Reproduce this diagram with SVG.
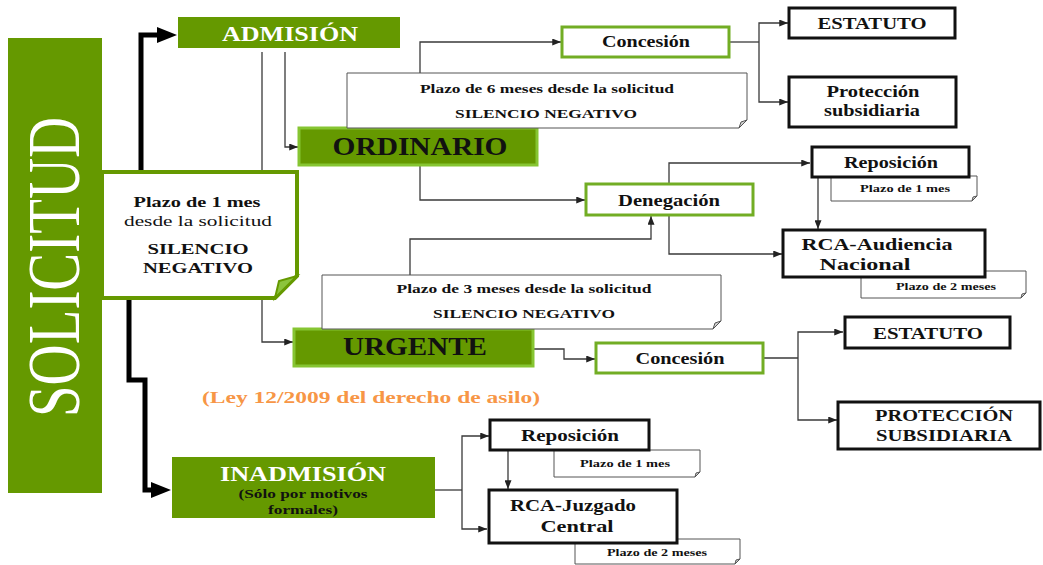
<svg xmlns="http://www.w3.org/2000/svg" width="1043" height="565" viewBox="0 0 1043 565">
<style>
text{font-family:'Liberation Serif','DejaVu Serif',serif;font-weight:bold;text-anchor:middle;fill:#111}
.wt{fill:#fff}
.reg{font-weight:normal}
.gfill{fill:#659900}
.gbox{fill:#659900;stroke:#86c532;stroke-width:3}
.gline{fill:#fff;stroke:#72ad24;stroke-width:3}
.bbox{fill:#fff;stroke:#111;stroke-width:3}
.note{fill:#fff;stroke:#555;stroke-width:1}
.fold{fill:#d0d0d0;stroke:#555;stroke-width:1}
.c{fill:none;stroke:#3a3a3a;stroke-width:1.3}
.ca{fill:none;stroke:#3a3a3a;stroke-width:1.3;marker-end:url(#a)}
.thick{fill:none;stroke:#000;stroke-width:5;marker-end:url(#b)}
</style>
<defs>
<marker id="a" viewBox="0 0 10 8" refX="10" refY="4" markerWidth="9" markerHeight="7" markerUnits="userSpaceOnUse" orient="auto"><path d="M0,0 L10,4 L0,8 z" fill="#222"/></marker>
<marker id="b" viewBox="0 0 20 16" refX="1" refY="8" markerWidth="20" markerHeight="16" markerUnits="userSpaceOnUse" orient="auto"><path d="M0,0 L20,8 L0,16 z" fill="#000"/></marker>
</defs>
<rect width="1043" height="565" fill="#fff"/>

<g id="connectors">
<path class="thick" d="M141,172 V35 H158"/>
<path class="thick" d="M129,298 V380 H145 V490 H152"/>
<path class="ca" d="M262,52 V342 H293"/>
<path class="ca" d="M285,52 V147 H298"/>
<path class="ca" d="M420,73 V42 H561"/>
<path class="c" d="M729,42 H759"/>
<path class="ca" d="M759,42 V23 H788"/>
<path class="ca" d="M759,42 V102 H788"/>
<path class="ca" d="M420,166 V200 H585"/>
<path class="ca" d="M669,184 V163 H810"/>
<path class="ca" d="M669,215 V254 H782"/>
<path class="ca" d="M410,275 V239 H651 V216"/>
<path class="ca" d="M818,178 V229"/>
<path class="ca" d="M533,349 H564 V359 H595"/>
<path class="c" d="M763,358 H798"/>
<path class="ca" d="M798,358 V332 H843"/>
<path class="ca" d="M798,358 V420 H837"/>
<path class="c" d="M435,490 H462"/>
<path class="ca" d="M462,490 V436 H489"/>
<path class="ca" d="M462,490 V529 H487"/>
<path class="ca" d="M508,450 V489"/>
</g>

<g id="solicitud">
<rect class="gfill" x="8" y="38" width="94" height="455"/>
<text class="wt reg" transform="translate(79,267) rotate(-90)" font-size="74" textLength="300" lengthAdjust="spacingAndGlyphs">SOLICITUD</text>
</g>

<g id="plazo1mes">
<path d="M102,172 H297 V276 L275,298 H102 Z" fill="#fff" stroke="#659900" stroke-width="4"/>
<path d="M275,298 L279,281 L297,276 Z" fill="#8cc43c" stroke="#659900" stroke-width="2"/>
<text x="197" y="207" font-size="15" textLength="127" lengthAdjust="spacingAndGlyphs">Plazo de 1 mes</text>
<text class="reg" x="198" y="226" font-size="15" textLength="148" lengthAdjust="spacingAndGlyphs">desde la  solicitud</text>
<text x="198" y="254" font-size="15" textLength="101" lengthAdjust="spacingAndGlyphs">SILENCIO</text>
<text x="198" y="273" font-size="15" textLength="110" lengthAdjust="spacingAndGlyphs">NEGATIVO</text>
</g>

<g id="admision">
<rect class="gfill" x="178" y="17" width="222" height="31"/>
<text class="wt" x="290" y="41" font-size="20" textLength="136" lengthAdjust="spacingAndGlyphs">ADMISIÓN</text>
</g>

<g id="ordinario">
<rect class="gbox" x="299" y="128" width="238" height="37"/>
<text x="420" y="155" font-size="26" textLength="175" lengthAdjust="spacingAndGlyphs">ORDINARIO</text>
</g>

<g id="plazo6">
<path class="note" d="M347,73 H747 V120 L739,128 H347 Z"/>
<path class="fold" d="M739,128 L741,122 L747,120 Z"/>
<text x="547" y="93" font-size="13" textLength="254" lengthAdjust="spacingAndGlyphs">Plazo de 6 meses desde la solicitud</text>
<text x="546" y="118" font-size="13" textLength="182" lengthAdjust="spacingAndGlyphs">SILENCIO NEGATIVO</text>
</g>

<g id="concesion1">
<rect class="gline" x="562" y="27" width="167" height="30"/>
<text x="646" y="47" font-size="16" textLength="88" lengthAdjust="spacingAndGlyphs">Concesión</text>
</g>

<g id="estatuto1">
<rect class="bbox" x="789" y="8" width="166" height="30"/>
<text x="872" y="29" font-size="16" textLength="109" lengthAdjust="spacingAndGlyphs">ESTATUTO</text>
</g>

<g id="proteccion1">
<rect class="bbox" x="789" y="77" width="167" height="50"/>
<text x="873" y="97" font-size="16" textLength="93" lengthAdjust="spacingAndGlyphs">Protección</text>
<text x="872" y="116" font-size="16" textLength="96" lengthAdjust="spacingAndGlyphs">subsidiaria</text>
</g>

<g id="denegacion">
<rect class="gline" x="586" y="184" width="167" height="31"/>
<text x="669" y="206" font-size="16" textLength="102" lengthAdjust="spacingAndGlyphs">Denegación</text>
</g>

<g id="reposicion1">
<path class="note" d="M831,176 H977 V196 L972,201 H831 Z"/>
<path class="fold" d="M972,201 L973,197 L977,196 Z"/>
<rect class="bbox" x="812" y="147" width="157" height="30"/>
<text x="891" y="168" font-size="16" textLength="94" lengthAdjust="spacingAndGlyphs">Reposición</text>
<text x="905" y="192" font-size="10" textLength="90" lengthAdjust="spacingAndGlyphs">Plazo de 1 mes</text>
</g>

<g id="rca-an">
<path class="note" d="M861,271 H1026 V293 L1021,298 H861 Z"/>
<path class="fold" d="M1021,298 L1022,294 L1026,293 Z"/>
<rect class="bbox" x="783" y="230" width="202" height="47"/>
<text x="877" y="250" font-size="16" textLength="151" lengthAdjust="spacingAndGlyphs">RCA-Audiencia</text>
<text x="865" y="270" font-size="16" textLength="91" lengthAdjust="spacingAndGlyphs">Nacional</text>
<text x="946" y="290" font-size="10" textLength="100" lengthAdjust="spacingAndGlyphs">Plazo de 2 meses</text>
</g>

<g id="urgente">
<rect class="gbox" x="294" y="329" width="239" height="37"/>
<text x="415" y="355" font-size="26" textLength="144" lengthAdjust="spacingAndGlyphs">URGENTE</text>
</g>

<g id="plazo3">
<path class="note" d="M322,275 H721 V321 L713,329 H322 Z"/>
<path class="fold" d="M713,329 L715,323 L721,321 Z"/>
<text x="524" y="293" font-size="13" textLength="255" lengthAdjust="spacingAndGlyphs">Plazo de 3 meses desde la solicitud</text>
<text x="524" y="318" font-size="13" textLength="182" lengthAdjust="spacingAndGlyphs">SILENCIO NEGATIVO</text>
</g>

<g id="concesion2">
<rect class="gline" x="596" y="343" width="167" height="30"/>
<text x="680" y="364" font-size="16" textLength="89" lengthAdjust="spacingAndGlyphs">Concesión</text>
</g>

<g id="estatuto2">
<rect class="bbox" x="845" y="317" width="165" height="31"/>
<text x="928" y="339" font-size="16" textLength="110" lengthAdjust="spacingAndGlyphs">ESTATUTO</text>
</g>

<g id="proteccion2">
<rect class="bbox" x="838" y="402" width="202" height="47"/>
<text x="944" y="421" font-size="16" textLength="138" lengthAdjust="spacingAndGlyphs">PROTECCIÓN</text>
<text x="944" y="441" font-size="16" textLength="136" lengthAdjust="spacingAndGlyphs">SUBSIDIARIA</text>
</g>

<g id="ley">
<text x="202" y="403" font-size="17" style="fill:#f79646;text-anchor:start" textLength="338" lengthAdjust="spacingAndGlyphs">(Ley 12/2009 del derecho de asilo)</text>
</g>

<g id="inadmision">
<rect class="gfill" x="172" y="457" width="263" height="61"/>
<text class="wt" x="303" y="481" font-size="20" textLength="166" lengthAdjust="spacingAndGlyphs">INADMISIÓN</text>
<text x="303" y="498" font-size="13" textLength="129" lengthAdjust="spacingAndGlyphs">(Sólo por motivos</text>
<text x="303" y="514" font-size="13" textLength="70" lengthAdjust="spacingAndGlyphs">formales)</text>
</g>

<g id="reposicion2">
<path class="note" d="M554,450 H700 V472 L695,477 H554 Z"/>
<path class="fold" d="M695,477 L696,473 L700,472 Z"/>
<rect class="bbox" x="490" y="420" width="159" height="30"/>
<text x="570" y="441" font-size="16" textLength="98" lengthAdjust="spacingAndGlyphs">Reposición</text>
<text x="625" y="467" font-size="10" textLength="90" lengthAdjust="spacingAndGlyphs">Plazo de 1 mes</text>
</g>

<g id="rca-jc">
<path class="note" d="M575,539 H740 V559 L735,564 H575 Z"/>
<path class="fold" d="M735,564 L736,560 L740,559 Z"/>
<rect class="bbox" x="489" y="490" width="188" height="53"/>
<text x="573" y="511" font-size="16" textLength="126" lengthAdjust="spacingAndGlyphs">RCA-Juzgado</text>
<text x="577" y="532" font-size="16" textLength="73" lengthAdjust="spacingAndGlyphs">Central</text>
<text x="657" y="556" font-size="10" textLength="100" lengthAdjust="spacingAndGlyphs">Plazo de 2 meses</text>
</g>
</svg>
